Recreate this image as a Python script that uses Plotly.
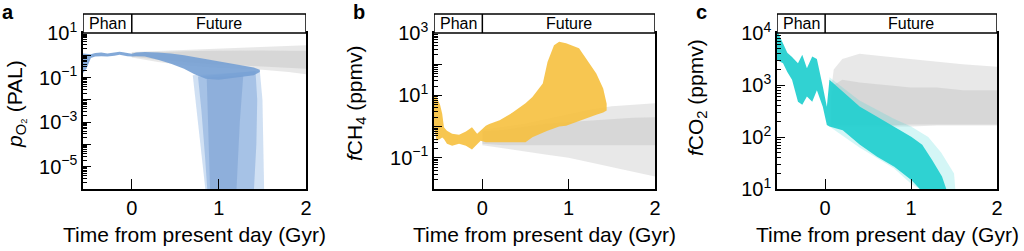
import plotly.graph_objects as go

W, H = 1024, 251

# ---------------- Panel a : pO2 (PAL), log10 values ----------------
o2_time = [-0.56, -0.52, -0.47, -0.42, -0.35, -0.28, -0.2, -0.14, -0.1, -0.05, 0.0, 0.05, 0.15,
           0.3, 0.45, 0.6, 0.72, 0.85, 1.0, 1.2, 1.4, 1.47]
o2_upper_log = [0.08, 0.07, 0.05, 0.10, 0.12, 0.08, 0.12, 0.16, 0.14, 0.10, 0.07, 0.12, 0.15,
                0.12, 0.08, 0.0, -0.08, -0.15, -0.25, -0.40, -0.55, -0.65]
o2_lower_log = [-0.8, -0.6, -0.12, -0.06, -0.04, -0.06, -0.02, 0.02, 0.0, -0.04, -0.06, -0.04, -0.06,
                -0.2, -0.38, -0.6, -0.85, -1.05, -1.1, -1.0, -0.9, -0.75]
o2_collapse_time = [0.70, 0.73, 0.76, 0.79, 0.82, 0.85, 1.52, 1.51, 1.50, 1.47]
o2_collapse_log = [-0.9, -2.0, -3.0, -4.0, -5.0, -6.2, -6.2, -4.0, -2.0, -0.7]
o2_mid_time = [0.76, 0.80, 0.84, 0.87, 1.40, 1.43, 1.44, 1.42]
o2_mid_log = [-0.95, -2.5, -4.5, -6.2, -6.2, -4.0, -2.0, -0.7]
o2_core_time = [0.86, 0.88, 0.90, 1.20, 1.24, 1.28]
o2_core_log = [-1.0, -3.5, -6.2, -6.2, -3.0, -0.9]
o2_gray_time = [0.0, 0.3, 0.6, 0.9, 1.2, 1.5, 1.8, 2.0]
o2_gray_upper_log = [0.15, 0.2, 0.25, 0.3, 0.35, 0.4, 0.45, 0.45]
o2_gray_lower_log = [-0.1, -0.3, -0.45, -0.55, -0.6, -0.65, -0.75, -0.85]
o2_gray_core_upper_log = [0.1, 0.15, 0.18, 0.2, 0.22, 0.22, 0.2, 0.2]
o2_gray_core_lower_log = [-0.05, -0.2, -0.3, -0.4, -0.45, -0.5, -0.55, -0.6]

# ---------------- Panel b : fCH4 (ppmv), log10 values ----------------
ch4_time = [-0.56, -0.53, -0.49, -0.465, -0.445, -0.41, -0.35, -0.27, -0.19, -0.12, -0.06, -0.02,
            0.04, 0.08, 0.2, 0.35, 0.5, 0.58, 0.70, 0.755, 0.83, 0.89, 0.97, 1.12, 1.24, 1.32,
            1.40, 1.44]
ch4_upper_log = [1.0, 0.95, 0.7, 0.41, -0.02, -0.13, -0.23, -0.26, -0.16, -0.02, -0.23, -0.13,
                 0.03, 0.08, 0.2, 0.45, 0.75, 0.95, 1.38, 2.07, 2.61, 2.72, 2.67, 2.51, 2.02, 1.70,
                 1.22, 0.73]
ch4_lower_log = [-0.02, -0.45, -0.4, -0.35, -0.4, -0.55, -0.61, -0.55, -0.61, -0.73, -0.55, -0.45,
                 -0.5, -0.5, -0.52, -0.5, -0.5, -0.34, -0.2, -0.13, -0.05, 0.0, 0.03, 0.2, 0.3,
                 0.38, 0.45, 0.52]
ch4_gray_time = [0.0, 0.25, 0.5, 0.75, 1.0, 1.25, 1.5, 1.75, 2.0]
ch4_gray_upper_log = [-0.1, 0.0, 0.1, 0.25, 0.4, 0.55, 0.65, 0.7, 0.75]
ch4_gray_lower_log = [-0.6, -0.7, -0.8, -0.9, -1.0, -1.15, -1.3, -1.45, -1.6]
ch4_gray_core_upper_log = [-0.15, -0.1, 0.0, 0.1, 0.15, 0.2, 0.25, 0.28, 0.3]
ch4_gray_core_lower_log = [-0.55, -0.6, -0.6, -0.6, -0.6, -0.6, -0.6, -0.6, -0.6]

# ---------------- Panel c : fCO2 (ppmv), log10 values ----------------
co2_time = [-0.56, -0.49, -0.44, -0.385, -0.316, -0.266, -0.212, -0.15, -0.096, -0.027, 0.02, 0.05,
            0.205, 0.405, 0.605, 0.805, 1.006, 1.13, 1.245, 1.36, 1.42]
co2_upper_log = [4.05, 3.80, 3.62, 3.54, 3.42, 3.58, 3.32, 3.55, 3.50, 2.97, 2.58, 3.10,
                 2.87, 2.58, 2.39, 2.20, 2.0, 1.85, 1.56, 1.24, 0.98]
co2_lower_log = [3.48, 3.42, 3.25, 3.10, 2.68, 2.62, 2.78, 2.68, 2.90, 2.58, 2.23, 2.20,
                 2.13, 1.85, 1.62, 1.43, 1.17, 0.95, 0.95, 0.95, 0.95]
co2_haze_time = [0.05, 0.4, 0.8, 1.0, 1.2, 1.35, 1.5, 1.52]
co2_haze_upper_log = [3.15, 2.7, 2.35, 2.2, 2.0, 1.7, 1.3, 0.9]
co2_haze_lower_log = [2.2, 1.8, 1.4, 1.1, 0.9, 0.9, 0.9, 0.9]
co2_gray_time = [0.07, 0.1, 0.2, 0.4, 0.7, 1.0, 1.3, 1.6, 2.0]
co2_gray_upper_log = [2.9, 3.3, 3.5, 3.6, 3.55, 3.5, 3.45, 3.4, 3.35]
co2_gray_lower_log = [2.2, 2.2, 2.2, 2.2, 2.2, 2.2, 2.22, 2.22, 2.22]
co2_gray_core_upper_log = [2.8, 3.0, 3.1, 3.05, 3.0, 2.95, 2.95, 2.9, 2.9]
co2_gray_core_lower_log = [2.22, 2.22, 2.22, 2.22, 2.22, 2.24, 2.24, 2.24, 2.24]

# ---------------- axes / labels ----------------
x_range = [-0.56, 2.0]
x_ticks = [0, 1, 2]
panel_letters = ["a", "b", "c"]
y_titles = ["<i>p</i><sub>O₂</sub> (PAL)", "<i>f</i>CH<sub>4</sub> (ppmv)", "<i>f</i>CO<sub>2</sub> (ppmv)"]
y_ranges = [[-6, 1], [-2, 3], [1, 4]]
y_tick_exps = [[-6, -5, -4, -3, -2, -1, 0, 1], [-2, -1, 0, 1, 2, 3], [1, 2, 3, 4]]
y_label_exps = [[-5, -3, -1, 1], [-1, 1, 3], [1, 2, 3, 4]]
era_labels = ["Phan", "Future"]
x_title = "Time from present day (Gyr)"

FONT = "Liberation Sans, Arial, Helvetica, sans-serif"
GRAY_OUT = "rgba(205,205,205,0.45)"
GRAY_CORE = "rgba(190,190,190,0.4)"

# pixel layout of the three plot frames
frames_px = [(83, 306), (434, 655), (777, 997)]
top_px, bot_px = 33, 189
head_top_px = 14


def band(t, up, lo, color, xa, ya):
    xs = list(t) + list(t)[::-1]
    ys = [10 ** v for v in up] + [10 ** v for v in lo][::-1]
    return go.Scatter(x=xs, y=ys, fill="toself", fillcolor=color, mode="lines",
                      line=dict(width=0, color=color), hoverinfo="skip",
                      showlegend=False, xaxis=xa, yaxis=ya)


def poly(t, v, color, xa, ya):
    return go.Scatter(x=list(t), y=[10 ** a for a in v], fill="toself", fillcolor=color,
                      mode="lines", line=dict(width=0, color=color), hoverinfo="skip",
                      showlegend=False, xaxis=xa, yaxis=ya)


fig = go.Figure()

# panel a
fig.add_trace(band(o2_gray_time, o2_gray_upper_log, o2_gray_lower_log, GRAY_OUT, "x", "y"))
fig.add_trace(band(o2_gray_time, o2_gray_core_upper_log, o2_gray_core_lower_log, GRAY_CORE, "x", "y"))
fig.add_trace(poly(o2_collapse_time, o2_collapse_log, "rgba(170,198,234,0.55)", "x", "y"))
fig.add_trace(poly(o2_mid_time, o2_mid_log, "rgba(132,170,218,0.55)", "x", "y"))
fig.add_trace(poly(o2_core_time, o2_core_log, "rgba(112,153,207,0.45)", "x", "y"))
fig.add_trace(band(o2_time, o2_upper_log, o2_lower_log, "rgba(118,160,212,0.9)", "x", "y"))

# panel b
fig.add_trace(band(ch4_gray_time, ch4_gray_upper_log, ch4_gray_lower_log, GRAY_OUT, "x2", "y2"))
fig.add_trace(band(ch4_gray_time, ch4_gray_core_upper_log, ch4_gray_core_lower_log, GRAY_CORE, "x2", "y2"))
fig.add_trace(band(ch4_time, ch4_upper_log, ch4_lower_log, "rgba(246,192,62,0.9)", "x2", "y2"))

# panel c
fig.add_trace(band(co2_gray_time, co2_gray_upper_log, co2_gray_lower_log, GRAY_OUT, "x3", "y3"))
fig.add_trace(band(co2_gray_time, co2_gray_core_upper_log, co2_gray_core_lower_log, GRAY_CORE, "x3", "y3"))
fig.add_trace(band(co2_haze_time, co2_haze_upper_log, co2_haze_lower_log, "rgba(60,215,215,0.22)", "x3", "y3"))
fig.add_trace(band(co2_time, co2_upper_log, co2_lower_log, "rgba(38,208,208,0.95)", "x3", "y3"))


def exp_label(e):
    s = str(e).replace("-", "−")
    return "10<sup>" + s + "</sup>"


layout = dict(width=W, height=H, margin=dict(l=0, r=0, t=0, b=0, pad=0, autoexpand=False),
              paper_bgcolor="white", plot_bgcolor="white",
              font=dict(family=FONT, color="black", size=20), showlegend=False)

ydom = [1 - bot_px / H, 1 - top_px / H]
shapes, annotations = [], []
for i in range(3):
    sfx = "" if i == 0 else str(i + 1)
    x0, x1 = frames_px[i]
    layout["xaxis" + sfx] = dict(
        domain=[x0 / W, x1 / W], range=x_range, anchor="y" + sfx,
        tickvals=x_ticks, ticktext=[str(v) for v in x_ticks], ticks="inside", ticklen=10,
        tickwidth=1.3, tickcolor="black", showline=True, linecolor="black", linewidth=1.5,
        mirror=True, showgrid=False, zeroline=False, ticklabelstandoff=0,
        tickfont=dict(size=20, family=FONT))
    labs = set(y_label_exps[i])
    layout["yaxis" + sfx] = dict(
        domain=ydom, type="log", range=y_ranges[i], anchor="x" + sfx,
        tickvals=[10 ** e for e in y_tick_exps[i]],
        ticktext=[exp_label(e) if e in labs else "" for e in y_tick_exps[i]],
        ticks="inside", ticklen=8, tickwidth=1.3, tickcolor="black",
        minor=dict(ticks="inside", ticklen=4, tickwidth=1, tickcolor="black", dtick="D1", showgrid=False),
        showline=True, linecolor="black", linewidth=1.5, mirror=True,
        showgrid=False, zeroline=False, tickfont=dict(size=20, family=FONT))

    xr = "x" + sfx
    # era header box
    shapes.append(dict(type="rect", xref=xr, yref="paper", x0=x_range[0], x1=x_range[1],
                       y0=1 - top_px / H, y1=1 - head_top_px / H,
                       line=dict(color="black", width=1.5), fillcolor="white", layer="above"))
    shapes.append(dict(type="line", xref=xr, yref="paper", x0=0, x1=0,
                       y0=1 - top_px / H, y1=1 - head_top_px / H,
                       line=dict(color="black", width=1.5), layer="above"))
    ymid = 1 - (top_px + head_top_px) / 2 / H
    annotations.append(dict(text=era_labels[0], xref=xr, yref="paper", x=x_range[0] / 2, y=ymid,
                            showarrow=False, font=dict(size=16, family=FONT), xanchor="center", yanchor="middle"))
    annotations.append(dict(text=era_labels[1], xref=xr, yref="paper", x=x_range[1] / 2, y=ymid,
                            showarrow=False, font=dict(size=16, family=FONT), xanchor="center", yanchor="middle"))
    # x title
    annotations.append(dict(text=x_title, xref="paper", yref="paper", x=(x0 + x1) / 2 / W, y=1 - 234 / H,
                            showarrow=False, font=dict(size=21, family=FONT), xanchor="center", yanchor="middle"))
    # panel letter
    annotations.append(dict(text="<b>" + panel_letters[i] + "</b>", xref="paper", yref="paper",
                            x=(x0 - 82) / W, y=1.0, showarrow=False, borderpad=0,
                            font=dict(size=20, family=FONT), xanchor="left", yanchor="top"))

ytitle_pos = [(16, 104), (356, 103), (697, 98)]
for i in range(3):
    px, py = ytitle_pos[i]
    annotations.append(dict(text=y_titles[i], xref="paper", yref="paper", x=px / W, y=1 - py / H,
                            showarrow=False, textangle=-90, font=dict(size=21, family=FONT),
                            xanchor="center", yanchor="middle"))

layout["shapes"] = shapes
layout["annotations"] = annotations
fig.update_layout(**layout)
fig.write_html("out.html")
